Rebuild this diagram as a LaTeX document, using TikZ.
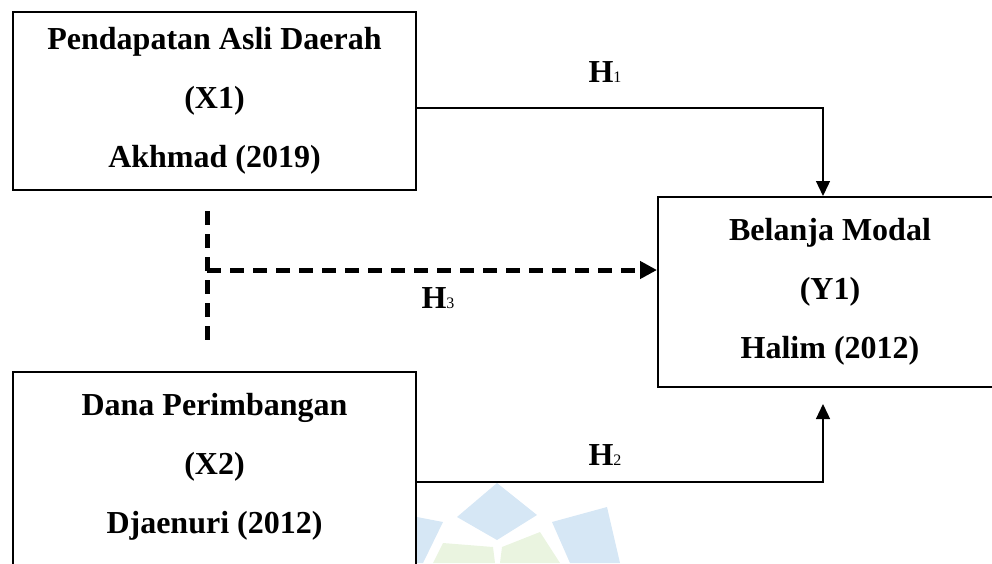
\documentclass[tikz,border=0pt]{standalone}
\usepackage{fontspec}
\setmainfont{Liberation Serif}
\usetikzlibrary{arrows.meta,positioning}
\definecolor{wmblue}{RGB}{214,231,245}
\definecolor{wmgreen}{RGB}{234,244,224}

\begin{document}
\begin{tikzpicture}[x=1pt,y=-1pt,every node/.style={font=\fontsize{32}{59}\selectfont\bfseries},
  varbox/.style={draw,line width=2pt,align=center,inner sep=0pt,minimum width=403pt,minimum height=178pt},
  vartext/.style={align=center,inner sep=0pt,minimum width=403pt,minimum height=189pt},
  boxline/.style={line width=2pt},
  link/.style={line width=1.3pt,-{Triangle[length=15pt,width=14pt]}},
  dashlink/.style={line width=5pt,dash pattern=on 14pt off 9pt},
  hlab/.style={anchor=base,inner sep=0pt}]
\useasboundingbox (0,0) rectangle (992,563); \clip (0,0) rectangle (992,563);
% faint logo in the background
\fill[wmblue] (457,517)--(497,483)--(537,515)--(497,540)--cycle; \fill[wmblue] (552,522)--(607,507)--(620,563)--(570,563)--cycle; \fill[wmblue] (417,517)--(443,522)--(423,563)--(417,563)--cycle;
\fill[wmgreen] (443,543)--(493,547)--(495,563)--(433,563)--cycle; \fill[wmgreen] (502,547)--(540,532)--(560,563)--(500,563)--cycle;
% variables
\node[varbox] (x1) at (214.5,101) {Pendapatan Asli Daerah\\(X1)\\Akhmad (2019)};
\node[vartext] (x2) at (214.5,466.5) {Dana Perimbangan\\(X2)\\Djaenuri (2012)};
\draw[boxline] ([yshift=-30pt]x2.south west) -- (x2.north west) -- (x2.north east) -- ([yshift=-30pt]x2.south east);
\node[varbox,minimum width=344pt,minimum height=190pt] (y1) at (830,292) {Belanja Modal\\(Y1)\\Halim (2012)};
% hypotheses
\draw[link] ([yshift=-7pt]x1.east) -| ([xshift=-7pt]y1.north); \node[hlab] (h1) at (605,82) {H{\fontsize{16}{16}\selectfont\mdseries 1}};
\draw[link] ([yshift=-15.5pt]x2.east) -| ([xshift=-7pt,yshift=-16pt]y1.south); \node[hlab] (h2) at (605,465) {H{\fontsize{16}{16}\selectfont\mdseries 2}};
\coordinate (h3top) at (207,211); \coordinate (h3bot) at (207,348); \coordinate (h3mid) at (207,270);
\draw[dashlink] (h3top) -- (h3bot);
\draw[dashlink,-{Triangle[length=17pt,width=17pt]}] (h3mid) -- (h3mid -| y1.west); \node[hlab] (h3) at (438,308) {H{\fontsize{16}{16}\selectfont\mdseries 3}};
\end{tikzpicture}
\end{document}
